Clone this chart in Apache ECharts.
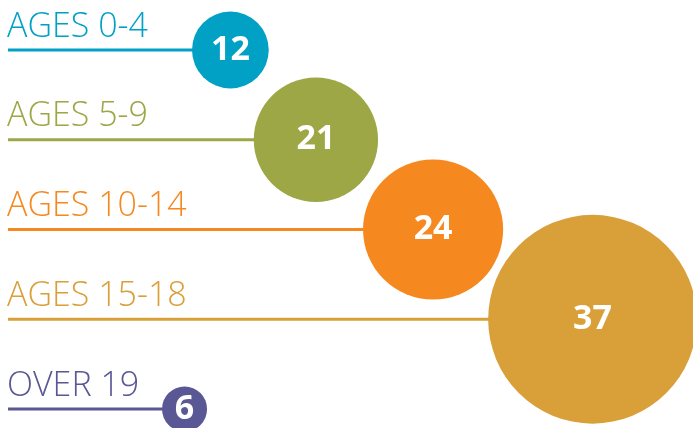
<!DOCTYPE html>
<html><head><meta charset="utf-8">
<script src="https://cdn.jsdelivr.net/npm/echarts@6/dist/echarts.min.js"></script>
<style>html,body{margin:0;padding:0;background:#fff}#c{width:693px;height:428px}</style>
</head><body><div id="c"></div>
<script>
// ---- data ----
const categories = ['AGES 0-4', 'AGES 5-9', 'AGES 10-14', 'AGES 15-18', 'OVER 19'];
const values = [12, 21, 24, 37, 6];

// ---- style / layout ----
const colors = ['#00a1c5', '#9ea745', '#f5891f', '#d99f38', '#5a5795'];
const LINE_START = 8;
const FIRST_LEFT = 192;
const OVERLAP = 15;
const LAST_LEFT = 162;
const radius = v => 2.64 * v + 6.7;

// circle centres derived from the values (cascade of circles)
const centers = [];
values.forEach((v, i) => {
  const r = radius(v);
  if (i === 0) centers.push(FIRST_LEFT + r);
  else if (i === values.length - 1) centers.push(LAST_LEFT + r);
  else centers.push(centers[i - 1] + radius(values[i - 1]) + r - OVERLAP);
});
const lefts = values.map((v, i) => centers[i] - radius(v));

const chart = echarts.init(document.getElementById('c'), null, {renderer: 'canvas'});
chart.setOption({
  animation: false,
  grid: {left: 0, right: 0, top: 50, bottom: 19},
  xAxis: {type: 'value', min: 0, max: 693, show: false},
  yAxis: {type: 'category', data: categories, inverse: true, boundaryGap: false, show: false},
  series: [
    {
      type: 'custom',
      z: 1,
      data: categories.map((c, i) => [lefts[i], i]),
      renderItem: (params, api) => {
        const i = params.dataIndex;
        const s = api.coord([LINE_START, i]);
        const e = api.coord([api.value(0) + 4, i]);
        return {
          type: 'group',
          children: [
            {type: 'line', shape: {x1: s[0], y1: s[1], x2: e[0], y2: e[1]},
             style: {stroke: colors[i], lineWidth: 3}},
            {type: 'text', x: s[0] - 1, y: s[1] - 6,
             style: {text: categories[i], fill: colors[i], font: '300 34px "Open Sans"',
                     align: 'left', verticalAlign: 'bottom'}}
          ]
        };
      }
    },
    {
      type: 'scatter',
      z: 2,
      symbol: 'circle',
      data: values.map((v, i) => ({value: [centers[i], i, v], itemStyle: {color: colors[i], opacity: 1}})),
      symbolSize: val => 2 * radius(val[2]),
      label: {
        show: true, position: 'inside', color: '#fff',
        fontFamily: 'Open Sans', fontWeight: 'bold', fontSize: 34,
        formatter: p => String(p.value[2])
      },
      emphasis: {disabled: true}
    }
  ]
});
</script>
</body></html>
